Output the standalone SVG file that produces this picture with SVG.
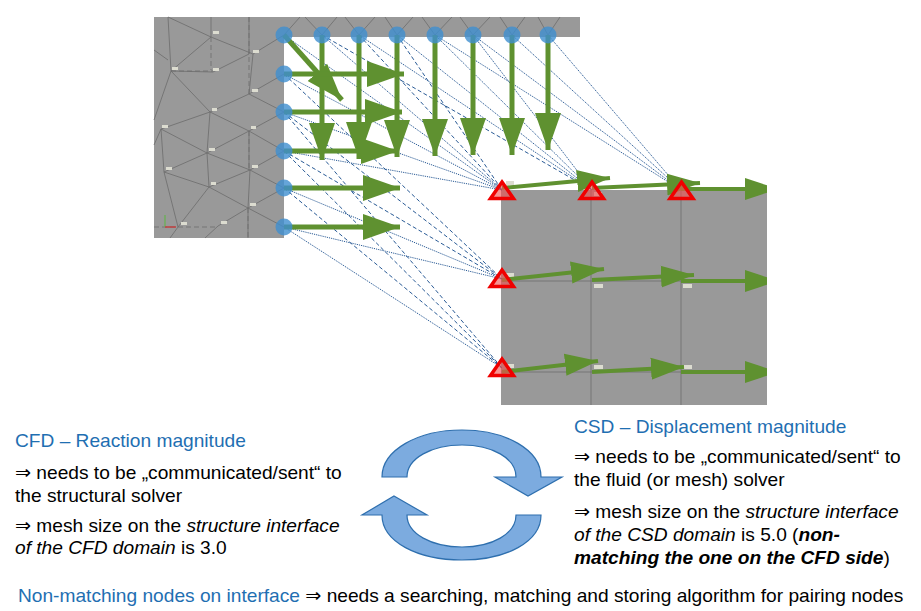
<svg xmlns="http://www.w3.org/2000/svg" width="921" height="611" viewBox="0 0 921 611">
<style>
text{font-family:"Liberation Sans",Arial,"DejaVu Sans",sans-serif;font-size:19.150px;fill:#000}
.h{fill:#1f6fb2}
.mesh{fill:none;stroke:#6c6c6c;stroke-width:.8}
.dash{stroke-dasharray:5 3}
.lab{fill:#dcdcd0}
.dot{stroke:#2a5b96;stroke-width:1;stroke-dasharray:1.2 1;fill:none}
.dsh{stroke:#2a5b96;stroke-width:1;stroke-dasharray:4 2.5;fill:none}
.sh{stroke:#5f9130;stroke-width:5;fill:none;marker-end:url(#ah)}
.sr{stroke:#5f9130;stroke-width:4;fill:none;marker-end:url(#ah2)}
.bn{fill:#3f8fd0;fill-opacity:.8}
.tri{fill:#f0504f;fill-opacity:.62;stroke:#f00000;stroke-width:3.500;stroke-linejoin:miter}
.cyc{fill:#7cabdf;stroke:#2e6fae;stroke-width:1.200}
</style>
<defs>
<marker id="ah" markerUnits="userSpaceOnUse" markerWidth="40" markerHeight="28" refX="37" refY="14" orient="auto"><path d="M0 1L37 14L0 27Z" fill="#5f9130"/></marker>
<marker id="ah2" markerUnits="userSpaceOnUse" markerWidth="36" markerHeight="24" refX="33" refY="12" orient="auto"><path d="M0 1L33 12L0 23Z" fill="#5f9130"/></marker>
<clipPath id="c"><rect x="0" y="0" width="767" height="611"/></clipPath>
</defs>
<g id="cfd-mesh">
<path d="M154 17H580V37H284V238H154Z" fill="#999"/>
<path class="mesh" d="M168 17L211 37L253 54L284 35M211 17V37M249 17V54M253 54L249 94L210 112M211 37L171 71M171 71L168 17M171 71L213 72L249 54M171 71L210 112M249 94L284 74M249 94L284 112M210 112L161 129L164 172L178 227M210 112L249 131L207 153L161 129M249 131L284 112M249 131L284 151M207 153L164 172M207 153L250 170L284 151M250 170L209 187L164 172M250 170L284 188M209 187L248 208L284 188M248 208L284 227M209 187L178 227M248 208L218 226M207 153L209 187M210 112L207 153M284 35L300 17M305 17L322 35L337 17M345 17L359 35L375 17M385 17L397 35L413 17M422 17L435 35L452 17M460 17L473 35L490 17M500 17L512 35L525 17M538 17L548 35L560 17M154 50L168 60M154 145L161 129M154 120L171 71M248 208V238M250 170L248 208M249 131V170M218 226L205 238M178 227L170 238"/>
<path class="mesh dash" d="M211 37V70M249 17V54M249 94V54M171 71H213M249 131V170M154 227H218M248 208V238"/>
<g class="lab"><rect x="213" y="31" width="6" height="3"/><rect x="253" y="50" width="6" height="3"/><rect x="172" y="67" width="6" height="3"/><rect x="213" y="68" width="6" height="3"/><rect x="252" y="89" width="6" height="3"/><rect x="212" y="108" width="5" height="3"/><rect x="162" y="125" width="6" height="3"/><rect x="251" y="126" width="5" height="3"/><rect x="209" y="148" width="6" height="3"/><rect x="166" y="167" width="6" height="3"/><rect x="252" y="165" width="6" height="3"/><rect x="211" y="182" width="5" height="3"/><rect x="250" y="203" width="6" height="3"/><rect x="181" y="222" width="6" height="3"/><rect x="221" y="221" width="6" height="3"/></g>
<path d="M165 227V215" stroke="#6fae5c" stroke-width="1.500"/><path d="M165 227H176" stroke="#c24040" stroke-width="1.500"/>
</g>
<g id="csd-mesh">
<rect x="501" y="190" width="266" height="215" fill="#999"/>
<path class="mesh" d="M591 190V405M681 190V405M501 281H767M501 372H767"/>
<g class="lab"><rect x="506" y="181" width="8" height="4"/><rect x="594" y="192" width="8" height="4"/><rect x="506" y="273" width="8" height="4"/><rect x="594" y="284" width="9" height="4"/><rect x="683" y="284" width="9" height="4"/><rect x="506" y="364" width="8" height="4"/><rect x="594" y="365" width="9" height="4"/><rect x="684" y="365" width="8" height="4"/></g>
</g>
<g id="connectors">
<path class="dot" d="M284 35L502 190M322 35L502 190M359 35L592 190M397 35L592 190M435 35L681 190M473 35L681 190M512 35L681 190M548 35L681 190M284 74L502 190M284 112L502 190M284 151L502 190M435 35L592 190M473 35L592 190"/>
<path class="dsh" d="M359 35L502 190M397 35L502 190M322 35L592 190M284 74L502 279M284 112L502 279M284 151L502 279M284 112L502 368M284 151L502 368M284 188L502 368"/>
<path class="dot" d="M284 188L502 279M284 227L502 279M284 227L502 368"/>
<g clip-path="url(#c)">
<path class="sh" d="M322 35V160"/><path class="sh" d="M359 35V159"/><path class="sh" d="M397 35V157"/><path class="sh" d="M435 35V156"/><path class="sh" d="M473 35V155"/><path class="sh" d="M512 35V155"/><path class="sh" d="M548 35V150"/>
<path class="sh" d="M284 35L342 100"/>
<path class="sh" d="M284 74H404"/><path class="sh" d="M284 112H402"/><path class="sh" d="M284 151H398"/><path class="sh" d="M284 188H400"/><path class="sh" d="M284 227H400"/>
<path class="sr" d="M502 188L610 178"/><path class="sr" d="M592 188L700 183"/><path class="sr" d="M681 189H778"/>
<path class="sr" d="M502 280L604 269"/><path class="sr" d="M592 280L694 275"/><path class="sr" d="M681 281H778"/>
<path class="sr" d="M502 372L598 361"/><path class="sr" d="M592 372L684 367"/><path class="sr" d="M681 372H778"/>
</g>
</g>
<g id="cfd-nodes"><circle class="bn" cx="284" cy="35" r="8.500"/><circle class="bn" cx="322" cy="35" r="8.500"/><circle class="bn" cx="359" cy="35" r="8.500"/><circle class="bn" cx="397" cy="35" r="8.500"/><circle class="bn" cx="435" cy="35" r="8.500"/><circle class="bn" cx="473" cy="35" r="8.500"/><circle class="bn" cx="512" cy="35" r="8.500"/><circle class="bn" cx="548" cy="35" r="8.500"/><circle class="bn" cx="284" cy="74" r="8.500"/><circle class="bn" cx="284" cy="112" r="8.500"/><circle class="bn" cx="284" cy="151" r="8.500"/><circle class="bn" cx="284" cy="188" r="8.500"/><circle class="bn" cx="284" cy="227" r="8.500"/></g>
<g id="csd-nodes"><path class="tri" d="M502 182L513.500 198.500H490.500Z"/><path class="tri" d="M592 182L603.500 198.500H580.500Z"/><path class="tri" d="M681.500 182L693 198.500H670Z"/><path class="tri" d="M502 270L513.500 286.500H490.500Z"/><path class="tri" d="M502 359L513.500 375.500H490.500Z"/></g>
<g id="cycle">
<path class="cyc" d="M382 477C382 450 418 430 462 430C506 430 541 450 541 477H562L528 496L495 477H516C516 458 492 445 462 445C432 445 407 458 407 477Z"/>
<path class="cyc" d="M394 496L427 515H407C407 534 432 547 462 547C492 547 516 534 516 515H541C541 542 506 560 462 560C418 560 382 542 382 515H362Z"/>
</g>
<g id="cfd-text">
<text class="h" x="15" y="447">CFD – Reaction magnitude</text>
<text x="15" y="479">⇒ needs to be „communicated/sent“ to</text>
<text x="15" y="502">the structural solver</text>
<text x="15" y="532">⇒ mesh size on the <tspan font-style="italic">structure interface</tspan></text>
<text x="15" y="554"><tspan font-style="italic">of the CFD domain</tspan> is 3.0</text>
</g>
<g id="csd-text">
<text class="h" x="574" y="433">CSD – Displacement magnitude</text>
<text x="574" y="463">⇒ needs to be „communicated/sent“ to</text>
<text x="574" y="486">the fluid (or mesh) solver</text>
<text x="574" y="518">⇒ mesh size on the <tspan font-style="italic">structure interface</tspan></text>
<text x="574" y="541"><tspan font-style="italic">of the CSD domain</tspan> is 5.0 (<tspan font-style="italic" font-weight="bold">non-</tspan></text>
<text x="574" y="564" font-style="italic" font-weight="bold">matching the one on the CFD side<tspan font-style="normal" font-weight="normal">)</tspan></text>
</g>
<g id="footer">
<text class="h" x="18" y="602">Non-matching nodes on interface <tspan fill="#000">⇒ needs a searching, matching and storing algorithm for pairing nodes</tspan></text>
</g>
</svg>
